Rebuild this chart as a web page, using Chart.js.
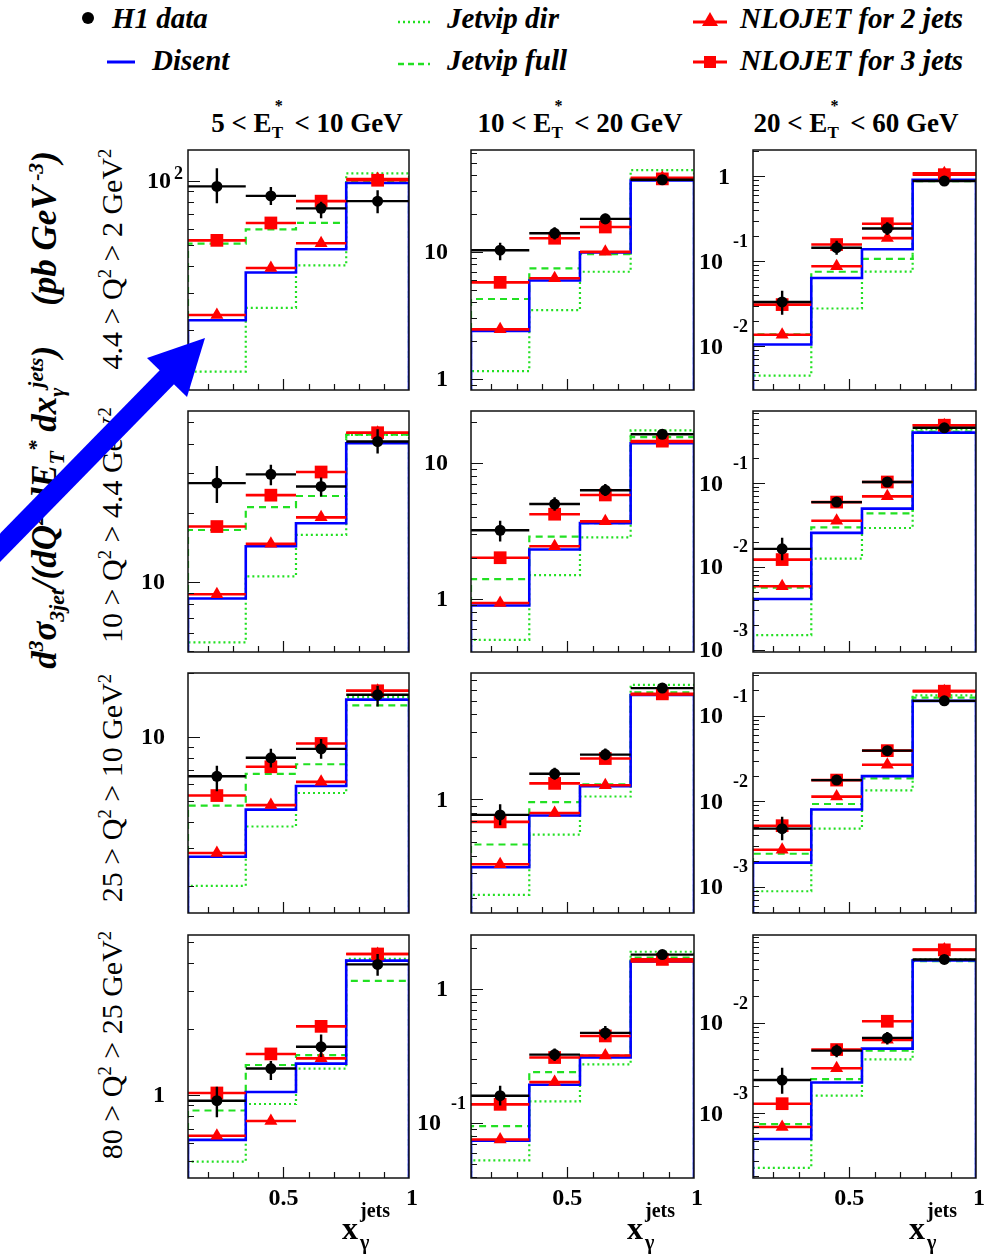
<!DOCTYPE html>
<html>
<head>
<meta charset="utf-8">
<script src="https://cdn.jsdelivr.net/npm/chart.js@4.4.0/dist/chart.umd.min.js"></script>
<style>
  body { margin: 0; background: #fff; width: 992px; height: 1255px; position: relative; overflow: hidden; font-family: "Liberation Serif", serif; }
  canvas { position: absolute; }
  .txt { position: absolute; white-space: nowrap; color: #000; line-height: 30px; }
  .leg { font-weight: bold; font-style: italic; font-size: 29px; }
  .title { font-weight: bold; font-size: 27px; transform: translate(-50%, -50%); }
  .rot { transform: translate(-50%, -50%) rotate(-90deg); }
  .rowlab { font-size: 30px; }
  .ytitle { font-weight: bold; font-style: italic; font-size: 35px; }
  sup, sub { font-size: 0.62em; line-height: 0; }
  .ss { display: inline-block; position: relative; width: 16px; height: 0; }
  .ss .u { position: absolute; left: 3px; top: -34px; font-size: 16px; line-height: 16px; }
  .ss .d { position: absolute; left: 0; top: -8px; font-size: 17px; line-height: 17px; }
  svg { position: absolute; left: 0; top: 0; }
</style>
</head>
<body>

<!-- legend -->
<div class="txt leg" style="left:112px; top:3px;">H1 data</div>
<div class="txt leg" style="left:152px; top:45px;">Disent</div>
<div class="txt leg" style="left:447px; top:3px;">Jetvip dir</div>
<div class="txt leg" style="left:447px; top:45px;">Jetvip full</div>
<div class="txt leg" style="left:740px; top:3px;">NLOJET for 2 jets</div>
<div class="txt leg" style="left:740px; top:45px;">NLOJET for 3 jets</div>

<!-- column titles -->
<div class="txt title" style="left:307px; top:123px;">5 &lt; E<span class="ss"><span class="u">*</span><span class="d">T</span></span> &lt; 10 GeV</div>
<div class="txt title" style="left:580px; top:123px;">10 &lt; E<span class="ss"><span class="u">*</span><span class="d">T</span></span> &lt; 20 GeV</div>
<div class="txt title" style="left:856px; top:123px;">20 &lt; E<span class="ss"><span class="u">*</span><span class="d">T</span></span> &lt; 60 GeV</div>

<!-- row labels -->
<div class="txt rot rowlab" style="left:112px; top:259px;">4.4 &gt; Q<sup>2</sup> &gt; 2 GeV<sup>2</sup></div>
<div class="txt rot rowlab" style="left:112px; top:525px;">10 &gt; Q<sup>2</sup> &gt; 4.4 GeV<sup>2</sup></div>
<div class="txt rot rowlab" style="left:112px; top:788px;">25 &gt; Q<sup>2</sup> &gt; 10 GeV<sup>2</sup></div>
<div class="txt rot rowlab" style="left:112px; top:1045px;">80 &gt; Q<sup>2</sup> &gt; 25 GeV<sup>2</sup></div>

<!-- y title -->
<div class="txt rot ytitle" style="left:45px; top:410px;">d<sup>3</sup>σ<sub>3jet</sub>/(dQ<sup>2</sup> dE<sub>T</sub><sup>*</sup> dx<sub>γ</sub><sup>jets</sup>)<span style="margin-left:40px;">(pb GeV<sup> -3</sup>)</span></div>

<script>
// x_gamma^jets bins
const xEdges = [0.12, 0.35, 0.55, 0.75, 1.0];
const xTicksMinor = [0.2, 0.3, 0.4, 0.6, 0.7, 0.8, 0.9];

// y-axis ranges per panel [row][col]
const yMin = [[10.5, 0.815, 0.00306], [4.95, 0.403, 0.00095], [1.49, 0.157, 0.000493], [0.416, 0.039, 0.000192]];
const yMax = [[140, 63.5, 2.05], [56, 24.2, 0.739], [20, 7.87, 0.32], [5.4, 2.52, 0.095]];

// H1 data and its error band ends
const h1 = [
  [[94.5, 85.3, 74.6, 80.6], [10.3, 14, 18.2, 37], [0.0333, 0.145, 0.244, 0.883]],
  [[27.1, 29.6, 26.2, 41.2], [3.19, 4.98, 6.3, 16.3], [0.0164, 0.0597, 0.104, 0.465]],
  [[6.54, 7.99, 8.8, 15.8], [0.778, 1.52, 2.08, 6.15], [0.0048, 0.0178, 0.0394, 0.151]],
  [[0.94, 1.32, 1.66, 3.96], [0.16, 0.324, 0.47, 1.8], [0.00234, 0.00496, 0.00687, 0.0509]]
];
const h1Lo = [
  [[78.7, 77.3, 67, 70.8], [8.6, 12.5, 16.5, 34.5], [0.0235, 0.12, 0.205, 0.82]],
  [[22.2, 26.5, 23.7, 36.5], [2.63, 4.45, 5.7, 15.2], [0.012, 0.052, 0.093, 0.43]],
  [[5.56, 7.2, 7.9, 13.9], [0.658, 1.38, 1.9, 5.8], [0.00352, 0.0158, 0.035, 0.142]],
  [[0.79, 1.17, 1.49, 3.51], [0.135, 0.29, 0.42, 1.7], [0.00165, 0.0042, 0.0058, 0.047]]
];
const h1Hi = [
  [[115, 93.9, 80, 90.6], [11.8, 15.6, 20, 39.5], [0.045, 0.175, 0.29, 0.95]],
  [[32.2, 32.6, 28.7, 46.6], [3.75, 5.6, 7.0, 17.4], [0.0223, 0.068, 0.117, 0.5]],
  [[7.33, 8.8, 9.8, 17.4], [0.925, 1.68, 2.3, 6.5], [0.0066, 0.02, 0.044, 0.16]],
  [[1.09, 1.43, 1.89, 4.42], [0.19, 0.36, 0.53, 1.9], [0.0032, 0.0058, 0.008, 0.055]]
];

// NLOJET predictions
const nlo2 = [
  [[23.6, 39.2, 51.2, 102.4], [2.45, 6.2, 10, 38.3], [0.0137, 0.0878, 0.188, 1.09]],
  [[8.85, 14.7, 19.2, 45], [0.926, 2.43, 3.71, 14.3], [0.00585, 0.0356, 0.07, 0.499]],
  [[2.85, 4.79, 6.16, 16.5], [0.348, 0.803, 1.26, 5.54], [0.00272, 0.0114, 0.0269, 0.196]],
  [[0.65, 0.759, 1.47, 4.42], [0.0754, 0.202, 0.319, 1.6], [0.000706, 0.00316, 0.00653, 0.0654]]
];
const nlo3 = [
  [[52.8, 63.7, 80.6, 101], [5.75, 12.8, 15.7, 37.6], [0.031, 0.158, 0.278, 1.05]],
  [[17.5, 24, 30.3, 45], [2.0, 4.19, 5.81, 14.5], [0.0122, 0.0597, 0.104, 0.499]],
  [[5.31, 7.25, 9.33, 16.5], [0.694, 1.3, 1.95, 5.6], [0.0052, 0.0178, 0.0394, 0.196]],
  [[1.02, 1.54, 2.06, 4.42], [0.138, 0.308, 0.446, 1.66], [0.00128, 0.0051, 0.0105, 0.065]]
];

// Disent and Jetvip histograms
const disent = [
  [[22.3, 37.3, 48, 98], [2.38, 5.95, 9.9, 36.5], [0.0105, 0.0638, 0.139, 0.913]],
  [[8.48, 14.35, 18.1, 40.5], [0.888, 2.3, 3.6, 14.0], [0.0041, 0.0255, 0.0499, 0.407]],
  [[2.74, 4.56, 5.89, 15.0], [0.331, 0.77, 1.24, 5.5], [0.00192, 0.00805, 0.0198, 0.151]],
  [[0.622, 1.03, 1.39, 4.12], [0.074, 0.193, 0.308, 1.6], [0.00052, 0.0022, 0.00522, 0.0497]]
];
const jetvipFull = [
  [[51, 59.4, 63.7, 100], [4.25, 7.4, 9.6, 37.6], [0.0138, 0.0755, 0.107, 0.88]],
  [[16.9, 21.3, 23.8, 44.1], [1.39, 2.86, 3.6, 15.5], [0.0056, 0.0297, 0.0436, 0.417]],
  [[4.76, 6.72, 7.45, 14.1], [0.48, 0.958, 1.28, 5.74], [0.00244, 0.00933, 0.0186, 0.165]],
  [[0.848, 1.37, 1.52, 3.33], [0.095, 0.24, 0.319, 1.71], [0.00076, 0.0024, 0.00496, 0.0488]]
];
const jetvipDir = [
  [[12.8, 25.5, 40.3, 108.8], [1.15, 3.47, 6.97, 44], [0.00452, 0.0279, 0.0757, 0.897]],
  [[5.45, 10.6, 16.1, 44], [0.496, 1.49, 2.83, 17.4], [0.00151, 0.0125, 0.0292, 0.444]],
  [[2.0, 3.8, 5.46, 15.4], [0.211, 0.563, 1.05, 6.48], [0.000886, 0.0048, 0.0135, 0.175]],
  [[0.494, 0.908, 1.32, 4.2], [0.0528, 0.145, 0.274, 1.89], [0.000249, 0.00157, 0.00396, 0.0509]]
];

// panel placement on the page
const colLeft = [188, 471, 753];
const colWidth = [221, 223, 223];
const rowTop = [145, 406, 668, 930];
const rowHeight = [250, 251, 250, 248];

const GREEN = '#22e022';
const FONT = '"Liberation Serif", serif';

const centers = xEdges.slice(0, -1).map((e, i) => (e + xEdges[i + 1]) / 2);

function stepPoints(vals, floor) {
  const pts = [{ x: xEdges[0], y: floor }];
  vals.forEach((v, i) => pts.push({ x: xEdges[i], y: v }, { x: xEdges[i + 1], y: v }));
  pts.push({ x: xEdges[xEdges.length - 1], y: floor });
  return pts;
}
function barPoints(vals) {
  const pts = [];
  vals.forEach((v, i) => pts.push({ x: xEdges[i], y: v }, { x: xEdges[i + 1], y: v }, { x: xEdges[i + 1], y: null }));
  return pts;
}
function errPoints(lo, hi) {
  const pts = [];
  centers.forEach((c, i) => pts.push({ x: c, y: lo[i] }, { x: c, y: hi[i] }, { x: c, y: null }));
  return pts;
}
function markPoints(vals) {
  return vals.map((v, i) => ({ x: centers[i], y: v }));
}

// frame, inward ticks and ROOT-like labels
const frameAndTicks = {
  id: 'frameAndTicks',
  afterDatasetsDraw(chart, args, opts) {
    const { ctx, chartArea: a, scales: { x, y } } = chart;
    ctx.save();
    ctx.strokeStyle = '#111';
    ctx.lineWidth = 1.5;
    ctx.strokeRect(a.left, a.top, a.right - a.left, a.bottom - a.top);
    ctx.lineWidth = 1.2;
    const lo = Math.floor(Math.log10(y.min)), hi = Math.ceil(Math.log10(y.max));
    ctx.beginPath();
    for (let p = lo; p <= hi; p++) {
      for (let m = 1; m <= 9; m++) {
        const v = m * Math.pow(10, p);
        if (v < y.min || v > y.max) continue;
        const py = Math.round(y.getPixelForValue(v)) + 0.5;
        ctx.moveTo(a.left, py);
        ctx.lineTo(a.left + (m === 1 ? 12 : 6), py);
      }
    }
    xTicksMinor.concat([0.5]).forEach(v => {
      const px = Math.round(x.getPixelForValue(v)) + 0.5;
      ctx.moveTo(px, a.bottom);
      ctx.lineTo(px, a.bottom - (v === 0.5 ? 11 : 6));
    });
    ctx.stroke();

    ctx.fillStyle = '#000';
    ctx.textBaseline = 'middle';
    for (let p = lo; p <= hi; p++) {
      const v = Math.pow(10, p);
      if (v < y.min || v > y.max) continue;
      const py = y.getPixelForValue(v);
      ctx.textAlign = 'right';
      if (p === 0 || p === 1) {
        ctx.font = 'bold 24px ' + FONT;
        ctx.fillText(p === 0 ? '1' : '10', a.left - 23, py + 1);
      } else {
        const e = String(p);
        ctx.font = 'bold 18px ' + FONT;
        const ew = ctx.measureText(e).width;
        ctx.fillText(e, a.left - 5, py - (p < 0 ? 19 : 7));
        ctx.font = 'bold 24px ' + FONT;
        ctx.fillText('10', a.left - 5 - ew - (p < 0 ? 10 : 3), py + 1);
      }
    }

    if (opts.bottomRow) {
      ctx.textAlign = 'center';
      ctx.font = 'bold 24px ' + FONT;
      ctx.fillText('0.5', x.getPixelForValue(0.5), a.bottom + 21);
      ctx.fillText('1', x.getPixelForValue(1.0) + 3, a.bottom + 21);
      ctx.textAlign = 'left';
      ctx.font = 'bold 32px ' + FONT;
      ctx.fillText('x', a.right - 67, a.bottom + 53);
      ctx.font = 'bold 20px ' + FONT;
      ctx.fillText('jets', a.right - 49, a.bottom + 34);
      ctx.fillText('γ', a.right - 49, a.bottom + 66);
    }
    ctx.restore();
  }
};

function lineSet(data, color, width, dash, order) {
  return { data, borderColor: color, borderWidth: width, borderDash: dash, pointRadius: 0, fill: false, order };
}
function markerSet(data, style, radius, color, order) {
  return { data, showLine: false, pointStyle: style, pointRadius: radius, pointBackgroundColor: color, pointBorderColor: color, pointBorderWidth: 0, order };
}

for (let r = 0; r < 4; r++) {
  for (let c = 0; c < 3; c++) {
    const bottomRow = r === 3;
    const padL = 75, padR = 12, padT = 4, padB = bottomRow ? 80 : 4;
    const cv = document.createElement('canvas');
    cv.width = colWidth[c] + padL + padR;
    cv.height = rowHeight[r] + padT + padB;
    cv.style.left = (colLeft[c] - padL) + 'px';
    cv.style.top = (rowTop[r] - padT) + 'px';
    document.body.appendChild(cv);

    const floor = yMin[r][c];
    new Chart(cv, {
      type: 'line',
      data: {
        datasets: [
          lineSet(stepPoints(jetvipDir[r][c], floor), GREEN, 2.2, [2, 3], 9),
          lineSet(stepPoints(jetvipFull[r][c], floor), GREEN, 2.2, [7, 5], 8),
          lineSet(stepPoints(disent[r][c], floor), '#0000ff', 2.6, [], 7),
          lineSet(barPoints(nlo2[r][c]), '#ff0000', 2.6, [], 6),
          markerSet(markPoints(nlo2[r][c]), 'triangle', 7.5, '#ff0000', 5),
          lineSet(barPoints(nlo3[r][c]), '#ff0000', 2.6, [], 4),
          markerSet(markPoints(nlo3[r][c]), 'rect', 9, '#ff0000', 3),
          lineSet(barPoints(h1[r][c]), '#000000', 2.4, [], 2),
          lineSet(errPoints(h1Lo[r][c], h1Hi[r][c]), '#000000', 2.4, [], 1),
          markerSet(markPoints(h1[r][c]), 'circle', 5.5, '#000000', 0)
        ]
      },
      options: {
        responsive: false,
        animation: false,
        devicePixelRatio: 1,
        layout: { padding: { left: padL, right: padR, top: padT, bottom: padB } },
        plugins: { legend: { display: false }, tooltip: { enabled: false }, frameAndTicks: { bottomRow } },
        elements: { line: { tension: 0 } },
        scales: {
          x: { type: 'linear', min: xEdges[0], max: xEdges[xEdges.length - 1], display: false },
          y: { type: 'logarithmic', min: yMin[r][c], max: yMax[r][c], display: false }
        }
      },
      plugins: [frameAndTicks]
    });
  }
}
</script>

<!-- legend symbols and the blue arrow -->
<svg width="992" height="1255">
  <circle cx="88" cy="18" r="6" fill="#000"/>
  <line x1="107" y1="62" x2="135" y2="62" stroke="#0000ff" stroke-width="3"/>
  <line x1="398" y1="22" x2="430" y2="22" stroke="#22e022" stroke-width="2.5" stroke-dasharray="2,3"/>
  <line x1="398" y1="64" x2="430" y2="64" stroke="#22e022" stroke-width="2.5" stroke-dasharray="6,4"/>
  <line x1="693" y1="22" x2="727" y2="22" stroke="#ff0000" stroke-width="3"/>
  <polygon points="710,12 702,26 718,26" fill="#ff0000"/>
  <line x1="693" y1="62" x2="727" y2="62" stroke="#ff0000" stroke-width="3"/>
  <rect x="704" y="56" width="12" height="12" fill="#ff0000"/>
  <line x1="-10" y1="558" x2="172" y2="372" stroke="#0000ff" stroke-width="20"/>
  <polygon points="205,338 187,397 147,358" fill="#0000ff"/>
</svg>
</body>
</html>
